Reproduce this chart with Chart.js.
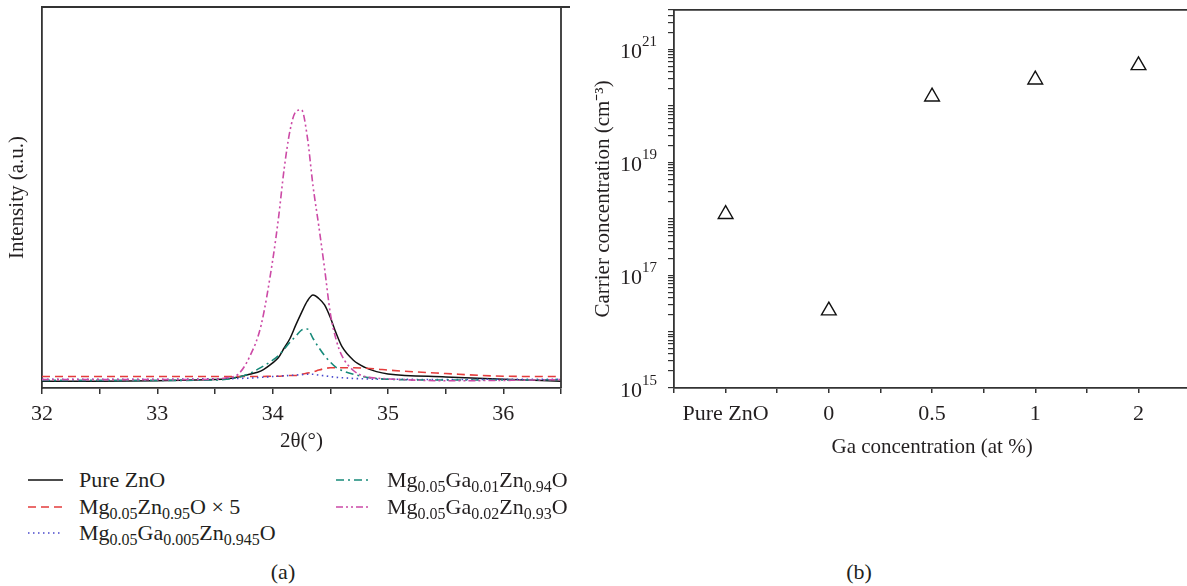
<!DOCTYPE html>
<html lang="en">
<head>
<meta charset="utf-8">
<script src="https://cdn.jsdelivr.net/npm/chart.js@4.4.0/dist/chart.umd.min.js"></script>
<style>
  html, body { margin: 0; padding: 0; background: #fff; overflow: hidden; width: 1187px; height: 586px; }
  body { position: relative; font-family: "Liberation Serif", serif; color: #231f20; }
  #left { position: absolute; left: 0; top: 0; }
  #right { position: absolute; left: 560px; top: 0; }
  .leg { position: absolute; height: 24px; font-size: 22px; line-height: 1; white-space: nowrap; display: flex; align-items: center; }
  .leg svg { margin-right: 16px; }
  .leg sub { font-size: 16px; vertical-align: -5px; line-height: 0; }
  .cap { position: absolute; font-size: 22px; transform: translate(-50%, -50%); }
</style>
</head>
<body>
<canvas id="left" width="570" height="460"></canvas>
<canvas id="right" width="640" height="470"></canvas>
<div class="cap" style="left:283px; top:572px">(a)</div>
<div class="cap" style="left:859px; top:572px">(b)</div>

<script>
// (a) XRD scans (intensity in % of the plot height)
const theta = [32, 32.5, 33, 33.5, 33.6, 33.7, 33.8, 33.9, 34.0, 34.05, 34.1, 34.15, 34.2, 34.25,
               34.3, 34.35, 34.4, 34.45, 34.5, 34.55, 34.6, 34.7, 34.8, 34.9, 35.0, 35.5, 36.0, 36.5];
const pureZnO = [1.8, 1.8, 1.9, 2.2, 2.4, 2.9, 3.6, 4.5, 6.6, 8.0, 10.5, 13.0, 16.5, 19.8,
                 22.8, 24.4, 23.5, 21.8, 18.5, 14.4, 10.9, 7.3, 5.4, 4.3, 3.7, 2.9, 2.3, 1.8];
const mgZnOx5 = [3.0, 3.0, 3.0, 3.0, 3.0, 3.0, 3.0, 3.0, 3.1, 3.1, 3.2, 3.3, 3.3, 3.6,
                 3.9, 4.2, 4.7, 5.1, 5.3, 5.3, 5.3, 5.3, 5.2, 5.0, 4.7, 3.8, 3.1, 3.0];
const ga0005 = [2.3, 2.3, 2.3, 2.4, 2.4, 2.5, 2.6, 2.8, 3.0, 3.1, 3.2, 3.3, 3.4, 3.5,
                3.6, 3.6, 3.4, 3.2, 3.0, 2.8, 2.7, 2.5, 2.4, 2.3, 2.3, 2.2, 2.3, 2.3];
const ga001 = [2.0, 2.0, 2.0, 2.1, 2.3, 2.8, 3.8, 5.4, 7.3, 8.5, 10.2, 12.0, 13.6, 15.2,
               15.5, 13.0, 10.6, 8.5, 6.8, 5.4, 4.6, 3.6, 2.9, 2.5, 2.3, 2.1, 2.1, 2.2];
const ga002 = [2.2, 2.2, 2.2, 2.3, 2.7, 3.6, 8.2, 16.5, 33.5, 44.5, 57.6, 67.5, 72.5, 73.0,
               66.0, 53.0, 42.5, 31.4, 19.6, 12.7, 8.5, 4.6, 3.0, 2.6, 2.4, 1.9, 2.0, 2.2];
const thetaLabels = [32, 33, 34, 35, 36];

const seriesLabels = [
  'Pure ZnO',
  'Mg<sub>0.05</sub>Zn<sub>0.95</sub>O × 5',
  'Mg<sub>0.05</sub>Ga<sub>0.005</sub>Zn<sub>0.945</sub>O',
  'Mg<sub>0.05</sub>Ga<sub>0.01</sub>Zn<sub>0.94</sub>O',
  'Mg<sub>0.05</sub>Ga<sub>0.02</sub>Zn<sub>0.93</sub>O'
];

// (b) carrier concentration
const gaLabels = ['Pure ZnO', '0', '0.5', '1', '2'];
const carrier = [1.2e18, 2.35e16, 1.45e20, 2.9e20, 5.2e20];
const yLabelExps = [15, 17, 19, 21];

// styles
const styles = [
  { color: '#111111', dash: [] },
  { color: '#e43c3c', dash: [8, 5] },
  { color: '#4848cc', dash: [1.5, 3.5] },
  { color: '#178a7a', dash: [8, 4, 2, 4] },
  { color: '#cc4aa6', dash: [7, 3, 2, 3, 2, 3] }
];
const legendPos = [[28, 480], [28, 507], [28, 533], [336, 480], [336, 507]];

const serif = '"Liberation Serif", serif';
Chart.defaults.font.family = serif;
Chart.defaults.font.size = 22;
Chart.defaults.color = '#231f20';

const axisColor = '#333';

const frame = {
  id: 'frame',
  afterDraw(chart) {
    const { ctx, chartArea: a } = chart;
    ctx.save();
    ctx.strokeStyle = axisColor;
    ctx.lineWidth = 1.8;
    ctx.beginPath();
    ctx.moveTo(a.left, a.top);
    ctx.lineTo(a.right + 10, a.top);
    ctx.moveTo(a.right, a.top);
    ctx.lineTo(a.right, a.bottom);
    ctx.stroke();
    ctx.restore();
  }
};

// no extra room for overhanging tick labels, the chart areas are fixed
const noPad = s => { s.paddingTop = 0; s.paddingBottom = 0; s.paddingLeft = 0; s.paddingRight = 0; };

const series = [pureZnO, mgZnOx5, ga0005, ga001, ga002];
const xrdSets = series.map((vals, i) => ({
  label: seriesLabels[i].replace(/<[^>]+>/g, ''),
  data: theta.map((t, k) => ({ x: t, y: vals[k] })),
  borderColor: styles[i].color,
  borderDash: styles[i].dash,
  borderWidth: i === 0 ? 1.5 : 1.6,
  pointRadius: 0,
  cubicInterpolationMode: 'monotone',
  fill: false
}));
// draw the big peak first so the others stay on top
xrdSets.reverse();

new Chart(document.getElementById('left'), {
  type: 'line',
  data: { datasets: xrdSets },
  options: {
    responsive: false,
    animation: false,
    layout: { padding: { top: 7, right: 9, left: 0, bottom: 0 } },
    plugins: { legend: { display: false }, tooltip: { enabled: false } },
    scales: {
      x: {
        type: 'linear', min: 32, max: 36.5,
        afterFit: s => { s.height = 72; noPad(s); },
        ticks: {
          stepSize: 0.5, autoSkip: false, maxRotation: 0, padding: 7,
          callback: v => thetaLabels.includes(v) ? String(v) : ''
        },
        grid: { drawOnChartArea: false, drawTicks: true, tickLength: 6, color: axisColor, lineWidth: 1.5 },
        border: { display: true, color: axisColor, width: 1.8 },
        title: { display: true, text: '2θ(°)', font: { size: 21, lineHeight: 1.2 }, padding: { top: 0, bottom: 6 } }
      },
      y: {
        min: 0, max: 100,
        afterFit: s => { s.width = 42; noPad(s); },
        ticks: { display: false },
        grid: { display: false },
        border: { display: true, color: axisColor, width: 1.8 },
        title: { display: true, text: 'Intensity (a.u.)', font: { size: 21, lineHeight: 1.2 }, padding: { top: 5, bottom: 0 } }
      }
    }
  },
  plugins: [frame]
});

// html legend with subscripts
seriesLabels.forEach((lab, i) => {
  const d = document.createElement('div');
  d.className = 'leg';
  d.style.left = legendPos[i][0] + 'px';
  d.style.top = (legendPos[i][1] - 12) + 'px';
  const dash = styles[i].dash.length ? ` stroke-dasharray="${styles[i].dash.join(' ')}"` : '';
  d.innerHTML = `<svg width="35" height="6"><line x1="0" y1="3" x2="35" y2="3" stroke="${styles[i].color}" stroke-width="1.6"${dash}/></svg><span>${lab}</span>`;
  document.body.appendChild(d);
});

// 10^n labels on the log axis, exponent raised and smaller
const expLabels = {
  id: 'expLabels',
  afterDraw(chart) {
    const s = chart.scales.y, ctx = chart.ctx;
    ctx.save();
    ctx.fillStyle = '#231f20';
    ctx.textBaseline = 'middle';
    ctx.textAlign = 'right';
    yLabelExps.forEach(e => {
      const y = s.getPixelForValue(Math.pow(10, e));
      const right = s.right - 17;
      ctx.font = '15px ' + serif;
      const ew = ctx.measureText(String(e)).width;
      ctx.fillText(String(e), right, y - 7);
      ctx.font = '22px ' + serif;
      ctx.fillText('10', right - ew, y + 3);
    });
    ctx.restore();
  }
};

new Chart(document.getElementById('right'), {
  type: 'scatter',
  data: {
    datasets: [{
      data: carrier.map((v, i) => ({ x: i, y: v })),
      pointStyle: 'triangle',
      pointRadius: 8.5,
      borderColor: '#111',
      borderWidth: 1.4,
      backgroundColor: 'rgba(0,0,0,0)'
    }]
  },
  options: {
    responsive: false,
    animation: false,
    layout: { padding: { top: 7, right: 7, left: 0, bottom: 0 } },
    plugins: { legend: { display: false }, tooltip: { enabled: false } },
    scales: {
      x: {
        type: 'linear', min: -0.5, max: gaLabels.length - 0.5,
        afterFit: s => { s.height = 82; noPad(s); },
        ticks: {
          stepSize: 0.5, autoSkip: false, maxRotation: 0, padding: 8,
          callback: v => Number.isInteger(v) && gaLabels[v] !== undefined ? gaLabels[v] : ''
        },
        grid: { drawOnChartArea: false, drawTicks: true, tickLength: 5, color: axisColor, lineWidth: 1.5 },
        border: { display: true, color: axisColor, width: 1.8 },
        title: { display: true, text: 'Ga concentration (at %)', font: { size: 21, lineHeight: 1.2 }, padding: { top: 0, bottom: 10 } }
      },
      y: {
        type: 'logarithmic', min: 1e15, max: 5e21,
        afterFit: s => { s.width = 114; noPad(s); },
        afterBuildTicks: s => {
          const t = [];
          for (let e = 15; e <= 21; e++) {
            for (let m = 1; m <= 9; m++) {
              const v = m * Math.pow(10, e);
              if (v <= 5e21) t.push({ value: v, major: m === 1 });
            }
          }
          s.ticks = t;
        },
        ticks: { autoSkip: false, padding: 11, callback: () => '' },
        grid: { drawOnChartArea: false, drawTicks: true, tickLength: 6, color: axisColor, lineWidth: 1.2 },
        border: { display: true, color: axisColor, width: 1.8 },
        title: { display: true, text: 'Carrier concentration (cm⁻³)', font: { size: 21, lineHeight: 1.2 }, padding: { top: 31, bottom: 0 } }
      }
    }
  },
  plugins: [frame, expLabels]
});
</script>
</body>
</html>
